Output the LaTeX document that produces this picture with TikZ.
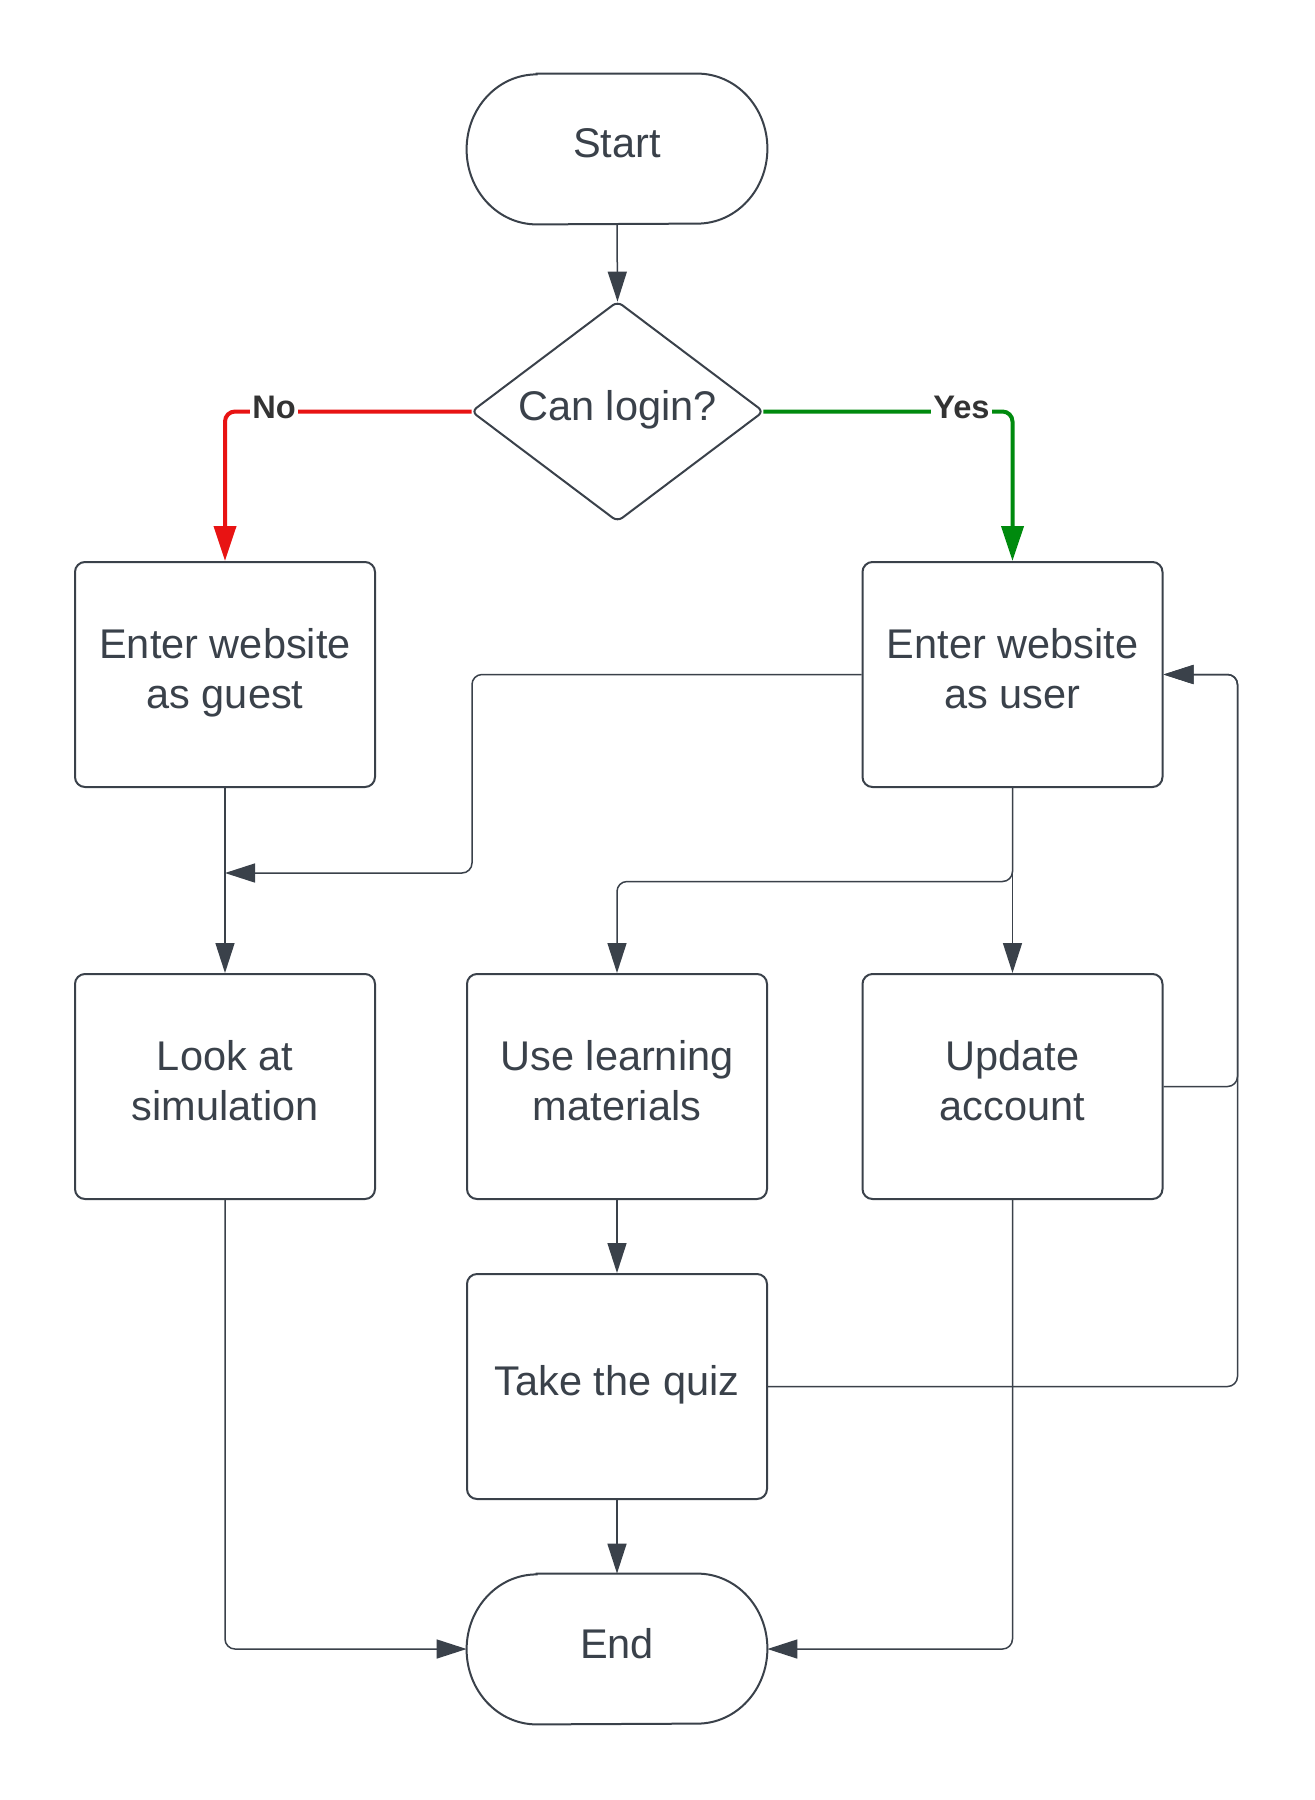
\documentclass[tikz,border=0pt]{standalone}
\usepackage{fontspec}
\setmainfont{Liberation Sans}
\usetikzlibrary{arrows.meta,calc}
\definecolor{ink}{HTML}{3A414A}
\definecolor{lbl}{HTML}{333333}
\definecolor{nored}{HTML}{E81313}
\definecolor{yesgreen}{HTML}{008A0E}
\tikzset{
  box/.style={draw=ink, line width=1pt, rounded corners=5pt, minimum width=150pt, minimum height=112.5pt,
    inner sep=0pt, align=center, text=ink, text depth=6pt, font=\fontsize{20.75pt}{25.3pt}\selectfont},
  termnode/.style={minimum width=150pt, minimum height=75pt, inner sep=0pt, align=center, text=ink,
    text depth=6pt, font=\fontsize{20.75pt}{25.3pt}\selectfont},
  decnode/.style={minimum width=145.5pt, minimum height=109.5pt, inner sep=0pt, align=center, text=ink,
    text depth=6pt, font=\fontsize{20.75pt}{25.3pt}\selectfont},
  outline/.style={draw=ink, line width=1pt},
  conn/.style={draw=ink, line width=0.75pt, rounded corners=5pt, -{Triangle[length=15pt,width=9.5pt]}},
  noconn/.style={draw=nored, line width=2pt, rounded corners=5pt, -{Triangle[length=17.5pt,width=11pt]}},
  yesconn/.style={draw=yesgreen, line width=2pt, rounded corners=5pt, -{Triangle[length=17.5pt,width=11pt]}},
  branchlbl/.style={fill=white, inner sep=1pt, text=lbl, font=\fontsize{16.3pt}{19pt}\selectfont\bfseries}
}
\newcommand{\stadiumpath}[1]{%
  \draw[outline] ([xshift=35pt]#1.north west) -- ([xshift=-35pt]#1.north east)
    arc[start angle=90,end angle=-90,x radius=35pt,y radius=37.5pt]
    -- ([xshift=35pt]#1.south west)
    arc[start angle=270,end angle=90,x radius=35pt,y radius=37.5pt] -- cycle;}
\begin{document}
\begin{tikzpicture}[x=0.5pt,y=-0.5pt]
\path[use as bounding box, fill=white] (0,0) rectangle (1314,1800);

% nodes
\node[termnode] (start) at (617,149) {Start};
\stadiumpath{start}
\node[decnode] (dec) at (617.5,411.5) {Can login?};
\draw[outline, rounded corners=3pt] (dec.north) -- (dec.east) -- (dec.south) -- (dec.west) -- cycle;

\node[box] (guest) at (225,674.5) {Enter website\\as guest};
\node[box] (user) at (1012.5,674.5) {Enter website\\as user};
\node[box] (sim) at (225,1086.5) {Look at\\simulation};
\node[box] (learn) at (617,1086.5) {Use learning\\materials};
\node[box] (update) at (1012.5,1086.5) {Update\\account};
\node[box] (quiz) at (617,1386.5) {Take the quiz};
\node[termnode] (end) at (617,1649) {End};
\stadiumpath{end}

% junction coordinates
\coordinate (jx) at (472,873);
\coordinate (j1) at (225,873);
\coordinate (rx) at (1237.5,674.5);

% connectors
\draw[conn] (start.south) -- (dec.north);
\draw[noconn] (dec.west) -| (guest.north);
\draw[yesconn] (dec.east) -| (user.north);
\node[branchlbl] (lblno) at (274,407) {No};
\node[branchlbl] (lblyes) at (961.5,407) {Yes};

\draw[conn] (guest.south) -- (sim.north);
\draw[conn] (user.west) -| (jx) -- (j1);
\draw[conn] (user.south) -- ++(0,93.5) -| (learn.north);
\draw[conn] (user.south) -- (update.north);
\draw[conn] (update.east) -| (rx) -- (user.east);
\draw[conn] (quiz.east) -| (rx) -- (user.east);
\draw[conn] (learn.south) -- (quiz.north);
\draw[conn] (quiz.south) -- (end.north);
\draw[conn] (sim.south) |- (end.west);
\draw[conn] (update.south) |- (end.east);
\end{tikzpicture}
\end{document}
